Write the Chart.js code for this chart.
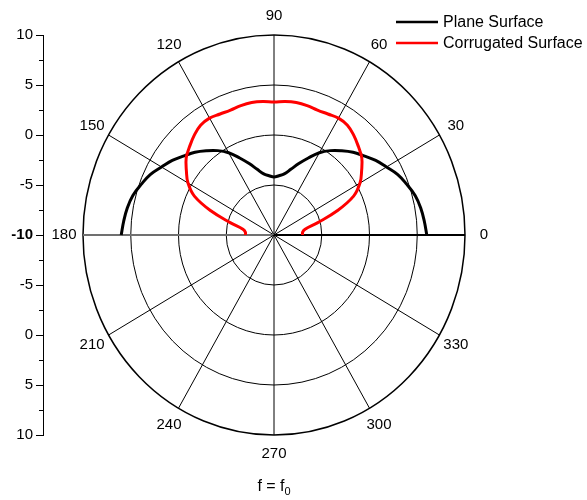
<!DOCTYPE html>
<html>
<head>
<title>f = f0 polar pattern</title>
<script src="https://cdn.jsdelivr.net/npm/chart.js"></script>
<style>
    body { margin: 0; background: #fff; }
    #wrap { width: 587px; height: 500px; }
</style>
</head>
<body>
<div id="wrap"><canvas id="polarChart"></canvas></div>
<script>
// angle in degrees, values in dB (radial axis runs -10 at centre to 10 at rim)
const angles = [0, 5, 10, 15, 20, 25, 30, 35, 40, 45, 50, 55, 60, 65, 70, 75, 80, 85, 90,
    95, 100, 105, 110, 115, 120, 125, 130, 135, 140, 145, 150, 155, 160, 165, 170, 175, 180];
const planeValues = [6.0, 5.8, 5.6, 5.3, 4.8, 4.3, 3.6, 3.0, 2.3, 1.7, 1.0, 0.3, -0.5, -1.5, -2.4, -3.2, -3.8, -4.05, -4.2,
    -4.05, -3.8, -3.2, -2.4, -1.5, -0.5, 0.3, 1.0, 1.7, 2.3, 3.0, 3.6, 4.3, 4.8, 5.3, 5.6, 5.8, 6.0];
const corrugatedValues = [-7.0, -7.0, -6.7, -5.3, -3.0, -0.8, 0.4, 1.2, 2.0, 2.5, 3.0, 3.4, 3.5, 3.35, 3.3, 3.4, 3.45, 3.4, 3.3,
    3.4, 3.45, 3.4, 3.3, 3.35, 3.5, 3.4, 3.0, 2.5, 2.0, 1.2, 0.4, -0.8, -3.0, -5.3, -6.7, -7.0, -7.0];
const seriesNames = ['Plane Surface', 'Corrugated Surface'];
const seriesColors = ['#000000', '#ff0000'];
const angleLabels = [0, 30, 60, 90, 120, 150, 180, 210, 240, 270, 300, 330];
const ringValues = [-5, 0, 5, 10];
const radialMin = -10;
const radialMax = 10;

const FONT = '"Liberation Sans", Arial, sans-serif';
const SPAN = radialMax - radialMin;
const PX_X = 9.55;   // the reference circle is a touch narrower than tall

function toXY(vals) {
    return angles.map((a, i) => {
        const t = a * Math.PI / 180;
        const r = vals[i] - radialMin;
        return { x: r * Math.cos(t), y: r * Math.sin(t) };
    });
}

const polarGrid = {
    id: 'polarGrid',
    beforeDatasetsDraw(chart) {
        const { ctx, scales: { x, y } } = chart;
        const cx = x.getPixelForValue(0), cy = y.getPixelForValue(0);
        const rx = v => x.getPixelForValue(v) - cx;
        const ry = v => cy - y.getPixelForValue(v);
        ctx.save();
        ctx.strokeStyle = '#000';
        ringValues.forEach(v => {
            const r = v - radialMin;
            ctx.beginPath();
            ctx.ellipse(cx, cy, rx(r), ry(r), 0, 0, Math.PI * 2);
            ctx.lineWidth = v === radialMax ? 1.5 : 1;
            ctx.stroke();
        });
        ctx.font = '15px ' + FONT;
        ctx.fillStyle = '#000';
        ctx.textAlign = 'center';
        ctx.textBaseline = 'middle';
        angleLabels.forEach(a => {
            const t = a * Math.PI / 180;
            const ex = cx + rx(SPAN) * Math.cos(t), ey = cy - ry(SPAN) * Math.sin(t);
            ctx.beginPath();
            ctx.moveTo(cx, cy);
            ctx.lineTo(ex, ey);
            if (a === 0) { ctx.lineWidth = 2.2; ctx.strokeStyle = '#000'; }
            else if (a === 180) { ctx.lineWidth = 2; ctx.strokeStyle = '#707070'; }
            else { ctx.lineWidth = 1; ctx.strokeStyle = '#000'; }
            ctx.stroke();
            const lx = ex + 19 * Math.cos(t), ly = ey - 19 * Math.sin(t);
            ctx.fillText(String(a), lx, ly);
        });
        // minor ticks on the left axis
        ctx.strokeStyle = '#000';
        ctx.lineWidth = 1;
        for (let v = y.min + 2.5; v < y.max; v += 5) {
            const py = Math.round(y.getPixelForValue(v)) + 0.5;
            ctx.beginPath();
            ctx.moveTo(y.right - 4, py);
            ctx.lineTo(y.right, py);
            ctx.stroke();
        }
        ctx.restore();
    },
    afterDraw(chart) {
        const { ctx } = chart;
        ctx.save();
        // legend
        ctx.font = '16px ' + FONT;
        ctx.textBaseline = 'middle';
        ctx.textAlign = 'left';
        seriesNames.forEach((name, i) => {
            const ly = 22 + i * 21;
            ctx.strokeStyle = seriesColors[i];
            ctx.lineWidth = 2.5;
            ctx.beginPath();
            ctx.moveTo(396, ly);
            ctx.lineTo(438, ly);
            ctx.stroke();
            ctx.fillStyle = '#000';
            ctx.fillText(name, 443, ly + 1);
        });
        // axis title f = f0
        ctx.font = '16px ' + FONT;
        ctx.textBaseline = 'alphabetic';
        const main = 'f = f';
        const w = ctx.measureText(main).width;
        ctx.font = '11px ' + FONT;
        const ws = ctx.measureText('0').width;
        const x0 = chart.scales.x.getPixelForValue(0) - (w + ws) / 2;
        ctx.font = '16px ' + FONT;
        ctx.fillText(main, x0, 491);
        ctx.font = '11px ' + FONT;
        ctx.fillText('0', x0 + w, 495);
        ctx.restore();
    }
};

const xMin = -(274 - 43) / PX_X;
const xMax = (567 - 274) / PX_X;

new Chart(document.getElementById('polarChart'), {
    type: 'scatter',
    data: {
        datasets: [
            {
                label: seriesNames[0],
                data: toXY(planeValues),
                showLine: true,
                borderColor: seriesColors[0],
                backgroundColor: seriesColors[0],
                borderWidth: 3,
                pointRadius: 0,
                tension: 0.4,
                order: 2
            },
            {
                label: seriesNames[1],
                data: toXY(corrugatedValues),
                showLine: true,
                borderColor: seriesColors[1],
                backgroundColor: seriesColors[1],
                borderWidth: 3,
                pointRadius: 0,
                tension: 0.4,
                order: 1
            }
        ]
    },
    options: {
        responsive: true,
        maintainAspectRatio: false,
        animation: false,
        layout: { padding: { left: 0, top: 35, right: 20, bottom: 65 } },
        plugins: {
            legend: { display: false },
            tooltip: { enabled: false }
        },
        scales: {
            x: { type: 'linear', min: xMin, max: xMax, display: false },
            y: {
                type: 'linear',
                position: 'left',
                min: -SPAN,
                max: SPAN,
                afterFit: scale => { scale.width = 43; },
                border: { display: true, color: '#000', width: 1 },
                grid: { drawOnChartArea: false, drawTicks: true, tickLength: 7, color: '#000' },
                ticks: {
                    stepSize: 5,
                    padding: 3,
                    color: '#000',
                    font: c => ({ family: FONT, size: 15, weight: c.tick && c.tick.value === 0 ? 'bold' : 'normal' }),
                    callback: v => String(Math.abs(v) + radialMin)
                }
            }
        }
    },
    plugins: [polarGrid]
});
</script>
</body>
</html>
